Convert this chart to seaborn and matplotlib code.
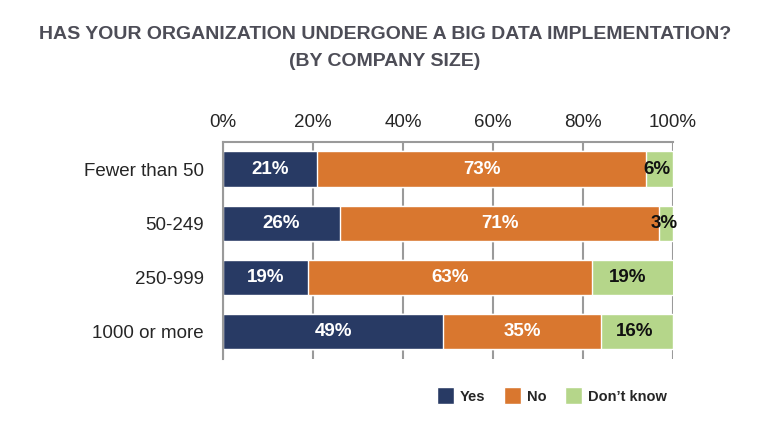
import numpy as np
import pandas as pd
import matplotlib
matplotlib.use('Agg')
import matplotlib.pyplot as plt
from matplotlib.patches import Patch
import seaborn as sns

# data
sizes = ['Fewer than 50', '50-249', '250-999', '1000 or more']
yes = [21, 26, 19, 49]
no = [73, 71, 63, 35]
dont_know = [6, 3, 19, 16]
ticks = [0, 20, 40, 60, 80, 100]

c_yes = '#283a64'
c_no = '#d9772f'
c_dk = '#b5d68a'

sns.set_style('white')
plt.rcParams['font.family'] = ['Liberation Sans', 'DejaVu Sans']

df = pd.DataFrame({'size': sizes, 'yes': yes, 'no': no, 'dk': dont_know})
df['cum_no'] = df['yes'] + df['no']
df['cum_dk'] = df['cum_no'] + df['dk']

fig = plt.figure(figsize=(7.7, 4.21), dpi=100)
ax = fig.add_axes([0.2896, 0.1473, 0.5844, 0.5154])

# stacked bars drawn as cumulative totals, longest first
sns.barplot(data=df, y='size', x='cum_dk', color=c_dk, width=0.65, saturation=1, ax=ax)
sns.barplot(data=df, y='size', x='cum_no', color=c_no, width=0.65, saturation=1, ax=ax)
sns.barplot(data=df, y='size', x='yes', color=c_yes, width=0.65, saturation=1, ax=ax)

for i, row in df.iterrows():
    ax.text(row['yes'] / 2, i, f"{row['yes']}%", ha='center', va='center',
            color='white', fontsize=13.5, fontweight='bold')
    ax.text(row['yes'] + row['no'] / 2, i, f"{row['no']}%", ha='center', va='center',
            color='white', fontsize=13.5, fontweight='bold')
    mid = min(row['cum_no'] + row['dk'] / 2, 99.5 - row['dk'] / 2)
    ax.text(mid, i, f"{row['dk']}%", ha='center', va='center',
            color='#111111', fontsize=13.5, fontweight='bold')

ax.set_xlim(0, 100)
ax.set_ylim(3.5, -0.5)
ax.set_xticks(ticks)
ax.set_xticklabels([f'{t}%' for t in ticks], fontsize=13.5)
ax.xaxis.tick_top()
ax.tick_params(axis='both', length=0, pad=8)
ax.tick_params(axis='y', labelsize=13.5, pad=14)
ax.set_xlabel('')
ax.set_ylabel('')
for t in ticks:
    ax.axvline(t, color='#9a9a9a', lw=1.5, zorder=0)
ax.set_axisbelow(True)
for s in ['right', 'bottom']:
    ax.spines[s].set_visible(False)
for s in ['top', 'left']:
    ax.spines[s].set_color('#9a9a9a')
    ax.spines[s].set_linewidth(1.5)

handles = [Patch(facecolor=c_yes, label='Yes'),
           Patch(facecolor=c_no, label='No'),
           Patch(facecolor=c_dk, label='Don\u2019t know')]
fig.legend(handles=handles, loc='center', bbox_to_anchor=(0.717, 0.06), ncol=3,
           frameon=False, handlelength=1.15, handleheight=1.4, handletextpad=0.4,
           columnspacing=1.3, prop={'size': 10.5, 'weight': 'bold'})

fig.text(0.5, 0.917, 'HAS YOUR ORGANIZATION UNDERGONE A BIG DATA IMPLEMENTATION?',
         ha='center', va='center', fontsize=14, fontweight='bold', color='#4d4d57')
fig.text(0.5, 0.853, '(BY COMPANY SIZE)',
         ha='center', va='center', fontsize=14, fontweight='bold', color='#4d4d57')

fig.savefig('out.png', dpi=100)
